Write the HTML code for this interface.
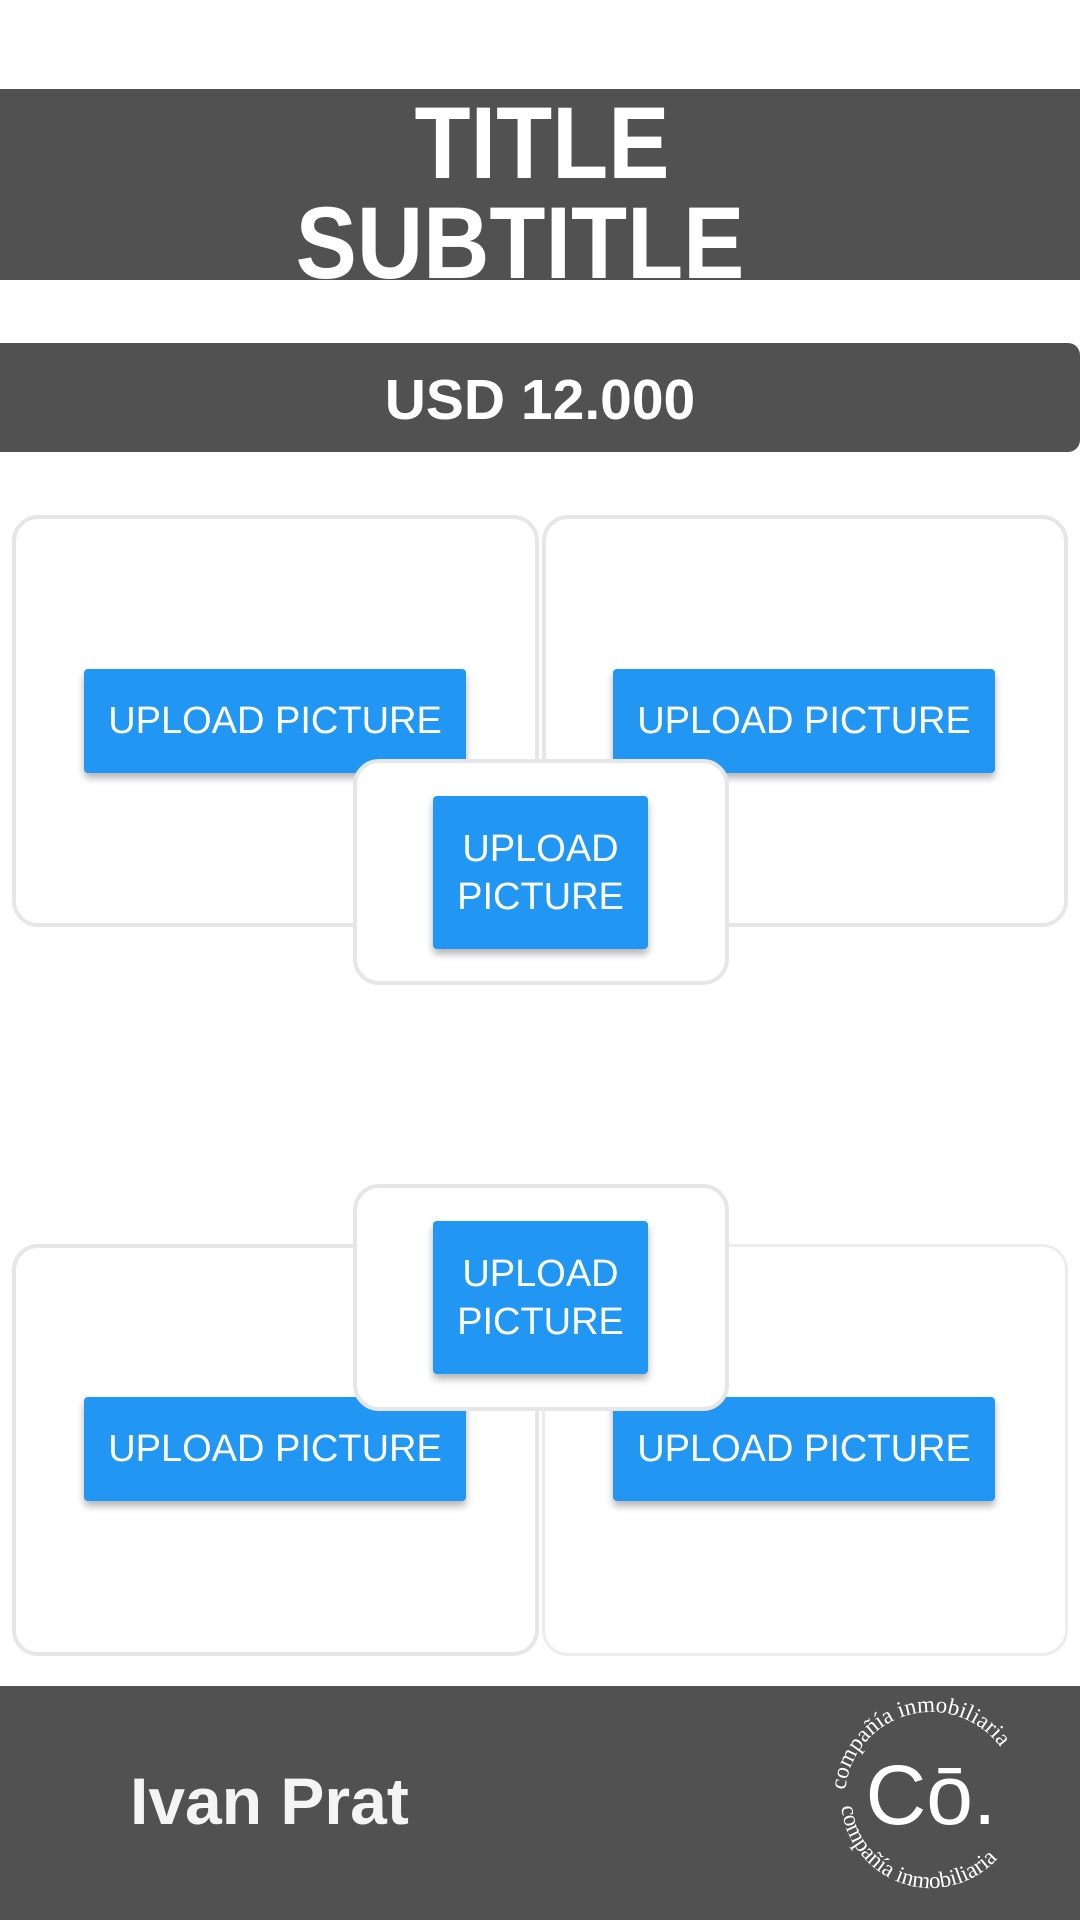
<!DOCTYPE html>
<html><head><meta charset="utf-8"><style>
*{margin:0;padding:0;box-sizing:border-box}
body{width:1080px;height:1920px;position:relative;background:#fff;font-family:"Liberation Sans",Arial,sans-serif;overflow:hidden}
.abs{position:absolute}
.band{left:0;top:89px;width:1080px;height:191px;background:#515151}
.t{color:#fff;font-weight:bold;white-space:nowrap;text-align:center}
.card{position:absolute;border:4px solid #e6e6e6;border-radius:26px;background:#fff}
.btn{position:absolute;background:#2196f3;color:#fff;border-radius:4px;box-shadow:0 5px 8px rgba(0,0,0,.3);display:flex;align-items:center;justify-content:center;text-align:center;font-size:38px;line-height:48px}
</style></head><body>
<div class="abs band"></div>
<div class="abs t" style="left:342px;top:92px;width:400px;font-size:102px;line-height:102px;transform:scaleX(0.9)">TITLE</div>
<div class="abs t" style="left:220px;top:192px;width:600px;font-size:102px;line-height:102px;transform:scaleX(0.9)">SUBTITLE</div>
<div class="abs" style="left:0;top:343px;width:1080px;height:109px;background:#515151;border-radius:0 12px 12px 0"></div>
<div class="abs t" style="left:0;top:372px;width:1080px;font-size:57px;line-height:56px">USD 12.000</div>

<div class="card" style="left:12px;top:515px;width:527px;height:412px"></div>
<div class="card" style="left:542px;top:515px;width:526px;height:412px"></div>
<div class="btn" style="left:84px;top:669px;width:382px;height:104px">UPLOAD PICTURE</div>
<div class="btn" style="left:613px;top:669px;width:382px;height:104px">UPLOAD PICTURE</div>
<div class="card" style="left:353px;top:759px;width:376px;height:226px"></div>
<div class="btn" style="left:433px;top:796px;width:215px;height:153px">UPLOAD<br>PICTURE</div>

<div class="card" style="left:12px;top:1244px;width:527px;height:412px"></div>
<div class="card" style="left:542px;top:1244px;width:526px;height:412px;border-width:3px;border-color:#ececec"></div>
<div class="btn" style="left:84px;top:1397px;width:382px;height:104px">UPLOAD PICTURE</div>
<div class="btn" style="left:613px;top:1397px;width:382px;height:104px">UPLOAD PICTURE</div>
<div class="card" style="left:353px;top:1184px;width:376px;height:227px"></div>
<div class="btn" style="left:433px;top:1221px;width:215px;height:153px">UPLOAD<br>PICTURE</div>

<div class="abs" style="left:0;top:1686px;width:1080px;height:234px;background:#515151"></div>
<div class="abs t" style="left:130px;top:1766px;font-size:66px;line-height:70px;color:#f4f4f4;text-align:left">Ivan Prat</div>
<svg class="abs" style="left:831px;top:1698px" width="200" height="200" viewBox="0 0 200 200">
<defs>
<path id="ct" d="M100,100 m-86,0 a86,86 0 1,1 172,0"/>
<path id="cb" d="M10,100 a90,90 0 0,0 180,0"/>
</defs>
<text fill="#fff" font-family="Liberation Serif,serif" font-size="23"><textPath href="#ct" startOffset="3%">compañía inmobiliaria</textPath></text>
<text fill="#fff" font-family="Liberation Serif,serif" font-size="23"><textPath href="#cb" startOffset="3%">compañía inmobiliaria</textPath></text>
<text x="100" y="126" fill="#fff" text-anchor="middle" font-family="Liberation Sans,sans-serif" font-size="84">Cō.</text>
</svg>
</body></html>
